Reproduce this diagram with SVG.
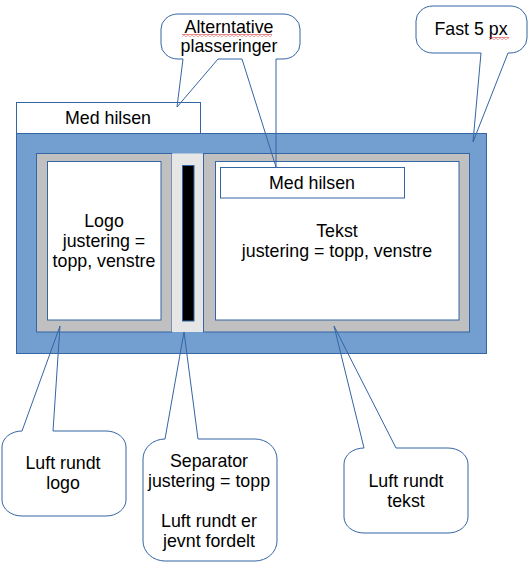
<svg xmlns="http://www.w3.org/2000/svg" width="528" height="566" viewBox="0 0 528 566">
<style>
text{font-family:"Liberation Sans",Arial,sans-serif;font-size:17.8px;fill:#000;text-anchor:middle}
.ln{stroke:#3465a4;stroke-width:1}
.body{fill:#fff;stroke:none}
.out{fill:none;stroke:#3465a4;stroke-width:1;stroke-linejoin:miter}
</style>
<defs>
<pattern id="wavy" width="4" height="3" patternUnits="userSpaceOnUse">
<path d="M0,2.3 L2,0.7 L4,2.3" fill="none" stroke="#e02020" stroke-width="0.9"/>
</pattern>
</defs>
<rect width="528" height="566" fill="#fff"/>

<g id="hilsen-top">
<rect x="16.5" y="102.5" width="184" height="31" fill="#fff" class="ln"/>
<text x="108" y="124">Med hilsen</text>
</g>

<g id="frame">
<rect x="16.5" y="133.5" width="470" height="220" fill="#729fcf" class="ln"/>
</g>

<g id="logo">
<rect x="36.5" y="153.5" width="135.5" height="178.5" fill="#c0c0c0" class="ln"/>
<rect x="47.5" y="161.5" width="113.5" height="158.5" fill="#fff" class="ln"/>
<text x="104" y="227">Logo</text>
<text x="104" y="247">justering =</text>
<text x="104" y="267">topp, venstre</text>
</g>

<g id="separator">
<rect x="172" y="153.5" width="31" height="178.5" fill="#e6e6e6" stroke="none"/>
<rect x="182.5" y="165.5" width="11.5" height="155.5" fill="#000" class="ln"/>
</g>

<g id="tekst">
<rect x="203.5" y="153.5" width="266" height="178.5" fill="#c0c0c0" class="ln"/>
<rect x="215.5" y="161.5" width="243.5" height="158.5" fill="#fff" class="ln"/>
<text x="337" y="237">Tekst</text>
<text x="337" y="257">justering = topp, venstre</text>
</g>

<g id="hilsen-inner">
<rect x="220.5" y="167.5" width="184" height="30.5" fill="#fff" class="ln"/>
<text x="312" y="189">Med hilsen</text>
</g>

<g id="connectors">
<g id="callout-alt">
<rect x="161" y="14" width="139" height="45" rx="17" ry="15" class="body"/>
<path class="out" d="M178,14 L283,14 A17,15 0 0 1 300,29 L300,44 A17,15 0 0 1 283,59 L276,59 L276,167 L242,59 L218,59 L177,107 L183,59 L178,59 A17,15 0 0 1 161,44 L161,29 A17,15 0 0 1 178,14 Z"/>
<text x="229" y="33">Alterntative</text>
<text x="229" y="52">plasseringer</text>
<rect x="182" y="34" width="90" height="3" fill="url(#wavy)"/>
</g>

<g id="callout-fast">
<rect x="416" y="6" width="111" height="47" rx="17" ry="15" class="body"/>
<path class="out" d="M433,6 L510,6 A17,15 0 0 1 527,21 L527,38 A17,15 0 0 1 510,53 L508,53 L473,142 L481,53 L433,53 A17,15 0 0 1 416,38 L416,21 A17,15 0 0 1 433,6 Z"/>
<text x="471" y="35">Fast 5 px</text>
<rect x="489" y="37" width="20" height="3" fill="url(#wavy)"/>
</g>

<g id="callout-logo">
<rect x="2" y="431" width="124" height="85" rx="20" ry="16" class="body"/>
<path class="out" d="M22,431 L60,326 L53,431 L106,431 A20,16 0 0 1 126,447 L126,500 A20,16 0 0 1 106,516 L22,516 A20,16 0 0 1 2,500 L2,447 A20,16 0 0 1 22,431 Z"/>
<text x="63" y="469">Luft rundt</text>
<text x="63" y="489">logo</text>
</g>

<g id="callout-sep">
<rect x="143" y="439" width="134" height="122" rx="22" ry="20" class="body"/>
<path class="out" d="M165,439 L184,332 L198,439 L255,439 A22,20 0 0 1 277,459 L277,541 A22,20 0 0 1 255,561 L165,561 A22,20 0 0 1 143,541 L143,459 A22,20 0 0 1 165,439 Z"/>
<text x="209" y="467">Separator</text>
<text x="209" y="487">justering = topp</text>
<text x="209" y="527">Luft rundt er</text>
<text x="209" y="547">jevnt fordelt</text>
</g>

<g id="callout-tekst">
<rect x="344" y="448" width="124" height="85" rx="20" ry="16" class="body"/>
<path class="out" d="M364,448 L334,326 L396,448 L448,448 A20,16 0 0 1 468,464 L468,517 A20,16 0 0 1 448,533 L364,533 A20,16 0 0 1 344,517 L344,464 A20,16 0 0 1 364,448 Z"/>
<text x="406" y="487">Luft rundt</text>
<text x="406" y="507">tekst</text>
</g>
</g>
</svg>
